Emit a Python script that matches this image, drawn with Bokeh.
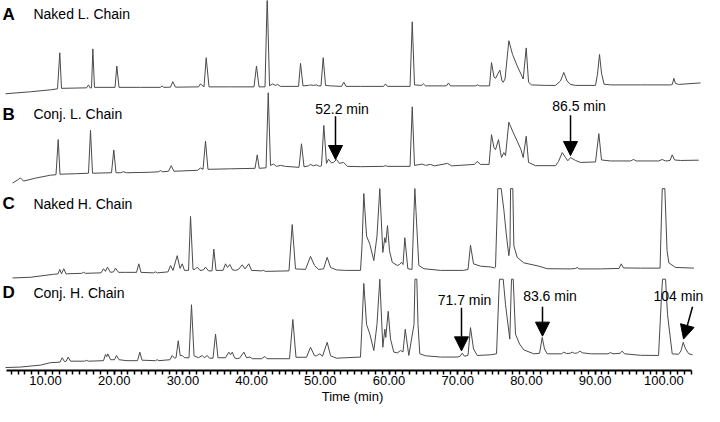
from bokeh.plotting import figure
from bokeh.models import Range1d, Label, Arrow, NormalHead, SingleIntervalTicker, NumeralTickFormatter
from bokeh.embed import file_html
from bokeh.resources import INLINE

# ---------------- data (time in min, detector response in arbitrary units) ----------------
a_time = [4.18, 7.82, 10.73, 11.75, 12.08, 12.33, 15.97, 16.26, 16.48, 16.70, 16.89, 17.13, 20.12, 20.38, 20.70,
          23.83, 26.74, 26.99, 27.18, 28.20, 28.53, 28.92, 32.27, 32.56, 33.07, 33.39, 33.80, 36.93, 40.35, 40.71,
          41.08, 41.95, 42.27, 42.61, 43.04, 43.48, 43.77, 44.21, 46.83, 47.12, 47.48, 48.28, 48.57, 49.01, 49.45,
          49.74, 50.10, 50.42, 50.76, 51.49, 53.09, 53.42, 53.74, 55.85, 59.20, 59.49, 59.78, 63.06, 63.38, 63.71,
          64.73, 65.02, 65.31, 68.37, 68.66, 68.95, 72.59, 72.88, 73.17, 74.63, 74.92, 75.28, 75.50, 76.13, 76.45,
          76.62, 76.89, 77.44, 77.98, 78.66, 79.21, 79.53, 79.97, 80.31, 80.74, 82.78, 84.24, 84.96, 85.44, 85.91,
          86.42, 87.15, 90.06, 90.35, 90.64, 90.93, 91.30, 92.24, 96.61, 100.98, 101.24, 101.46, 101.70, 102.14, 105.34]
a_signal = [1, 3, 5, 6, 42.7, 6.5, 7, 10, 7, 7, 46.7, 7.5, 7.5, 29.3, 7.5,
            7.5, 7.5, 9, 7.5, 7.7, 13.3, 7.7, 8, 11, 8, 37.7, 8, 8, 8, 29.3,
            8, 8, 100, 9, 11, 9.5, 10.5, 8.5, 8.5, 32, 9, 9.5, 10, 9.5, 10,
            9, 9, 37.7, 9.5, 9, 8.5, 12.7, 8.5, 8.5, 8.5, 11, 8.5, 8.5, 74.3, 10,
            9.5, 11, 9, 9, 12, 9, 9, 10, 9, 9, 32.7, 18, 16.7, 25, 14,
            12.7, 16, 55, 41, 29.3, 21, 16, 47.7, 12.7, 10, 9.5, 9.5, 14, 22.7, 14,
            10.5, 9.5, 9.5, 21, 41, 22, 10.7, 10, 10, 10, 10.5, 16.7, 11.5, 10.5, 12]

b_time = [5.20, 5.92, 6.36, 6.80, 8.54, 10.73, 11.53, 11.85, 12.11, 14.37, 16.26, 16.55, 16.84, 19.61, 19.94,
          20.26, 20.92, 21.35, 21.79, 25.28, 26.45, 26.74, 27.03, 27.90, 28.30, 28.70, 32.13, 32.56, 32.93, 33.29,
          33.65, 36.93, 40.50, 40.82, 41.11, 42.10, 42.42, 42.75, 43.19, 43.62, 44.21, 44.93, 46.90, 47.26, 47.63,
          48.28, 48.57, 49.01, 49.45, 49.88, 50.17, 50.51, 50.90, 51.19, 51.63, 51.92, 52.36, 52.79, 53.38, 53.96,
          55.85, 59.20, 59.49, 59.78, 63.06, 63.38, 63.71, 64.83, 65.31, 66.04, 66.62, 68.52, 69.10, 72.45, 72.84,
          73.32, 74.56, 74.92, 75.28, 75.50, 75.94, 76.23, 76.38, 76.71, 76.96, 77.44, 77.98, 78.66, 79.21, 79.53,
          79.97, 80.31, 81.32, 84.24, 84.67, 85.21, 85.69, 86.03, 86.42, 87.15, 87.87, 90.06, 90.54, 90.93, 92.24,
          95.15, 95.59, 96.03, 99.23, 99.77, 100.25, 100.90, 101.22, 101.56, 102.43, 105.09]
b_signal = [1, 4, 6.3, 3, 6, 9, 9.5, 45.3, 10, 10.5, 11, 54.7, 11, 11.5, 34.7,
            11.5, 11.5, 12.5, 11.5, 12, 12.5, 13.7, 12.5, 13, 18.7, 13, 14, 16.3, 15, 43.7,
            15, 15.5, 16, 29.7, 16, 16.5, 93, 19, 20.3, 18, 19, 18, 17, 41, 17.5,
            18.5, 20, 18.5, 19.5, 18, 18.5, 59.7, 21, 25.3, 21.5, 22, 25, 21, 22, 18,
            17.7, 18, 18.7, 18, 18, 78.7, 19, 20.3, 19, 20, 18.5, 21, 18.5, 20, 23,
            20, 20, 50.3, 37, 35, 45.3, 32, 27, 32, 29, 63, 54, 43.7, 35, 27,
            48.7, 22, 18.7, 18.7, 23, 32, 27, 23.7, 27, 24, 22, 22.5, 51.3, 24.5, 23.5,
            23.5, 25, 23.5, 23.5, 25, 23.5, 24, 29.7, 24.5, 24, 24.3]

c_time = [5.20, 7.82, 11.16, 11.82, 12.08, 12.33, 12.66, 12.98, 15.24, 15.53, 15.82, 18.08, 18.44, 18.73, 19.02,
          19.46, 19.90, 20.19, 20.63, 21.64, 23.25, 23.58, 23.90, 25.72, 26.01, 26.30, 27.83, 28.20, 28.56, 29.17,
          29.58, 29.90, 30.23, 30.82, 31.11, 31.47, 31.76, 32.08, 32.49, 33.00, 33.29, 33.73, 34.24, 34.50, 34.82,
          35.84, 36.20, 36.49, 36.83, 37.22, 37.66, 38.09, 38.63, 39.04, 39.59, 39.99, 41.44, 41.73, 42.02, 45.44,
          45.91, 46.39, 47.85, 48.57, 49.16, 49.74, 50.47, 51.00, 51.49, 52.36, 53.67, 55.85, 56.07, 56.33, 56.73,
          57.21, 57.79, 58.25, 58.66, 59.10, 59.39, 59.53, 59.78, 60.07, 60.47, 61.19, 61.53, 61.82, 62.04, 62.30,
          62.74, 63.35, 63.64, 63.76, 63.93, 64.34, 65.07, 67.50, 70.84, 71.50, 71.86, 72.30, 73.32, 74.77, 75.36,
          75.50, 75.84, 76.33, 76.71, 77.10, 77.44, 77.61, 77.69, 78.02, 78.17, 78.66, 79.62, 81.81, 83.03, 86.42,
          87.15, 87.39, 87.66, 90.79, 93.48, 93.80, 94.13, 96.61, 99.45, 99.77, 100.15, 100.47, 100.73, 101.70, 104.37]
c_signal = [1.3, 2, 5, 5.5, 10, 5.5, 10.7, 5.5, 6, 7, 6, 6.5, 10.7, 8, 12.3,
            7, 7.5, 11.3, 7, 7, 7, 15.7, 7, 6.5, 7.5, 6.5, 7.5, 14, 9, 24,
            11, 15.7, 9, 9, 64, 10, 10, 12.3, 9, 9.5, 12.3, 8.5, 8.5, 30.7, 9,
            9, 15.7, 12, 15, 9.5, 9, 10, 14.7, 10.5, 15.7, 9, 8.5, 9, 8, 8.5,
            55.7, 10.5, 10, 23.3, 14, 10, 10.5, 22.3, 12, 9.5, 9, 9, 34, 87.3, 44,
            35.7, 19, 44, 92.3, 27.3, 42.3, 37.3, 54.7, 29, 17.3, 14, 15, 17.3, 15, 42.3,
            10.7, 10, 69, 92.3, 69, 14, 10.7, 9, 9, 10, 34.7, 15.7, 13.3, 12.5, 11.5,
            12.3, 92.3, 92.3, 71, 44, 24, 34, 92.3, 92.3, 34, 22.3, 16.7, 13.3, 10.7, 10.5,
            11, 12, 10.5, 10.5, 11, 15.7, 11.5, 11.3, 11.3, 92.3, 92.3, 29, 16.7, 12, 11.3]

d_time = [4.18, 6.36, 9.27, 10.73, 12.11, 12.43, 12.77, 13.01, 13.30, 13.64, 15.68, 15.97, 16.26, 18.44, 18.73,
          18.91, 19.07, 19.46, 20.04, 20.33, 20.70, 21.86, 23.39, 23.73, 24.05, 26.01, 26.26, 26.52, 28.12, 28.44,
          28.78, 29.00, 29.32, 29.61, 29.90, 30.23, 30.89, 31.25, 31.62, 32.27, 32.81, 33.14, 33.54, 33.87, 34.38,
          34.75, 35.11, 36.20, 36.68, 36.93, 37.18, 37.51, 37.90, 38.24, 38.87, 39.26, 39.74, 40.13, 41.44, 41.92,
          42.24, 45.52, 46.00, 46.46, 47.99, 48.57, 49.16, 49.45, 49.93, 50.32, 51.00, 51.49, 52.36, 53.67, 55.85,
          56.07, 56.33, 56.73, 57.21, 57.79, 58.25, 58.66, 59.10, 59.39, 59.53, 59.88, 60.22, 60.70, 61.24, 61.67,
          62.04, 62.36, 62.88, 63.64, 63.78, 64.05, 64.22, 64.48, 65.31, 67.50, 69.93, 70.34, 70.66, 70.99, 71.50,
          71.86, 72.30, 72.84, 74.77, 75.65, 75.98, 76.08, 76.62, 76.96, 77.58, 77.76, 77.83, 78.08, 78.41, 79.00,
          79.62, 81.08, 81.91, 82.30, 82.63, 83.03, 85.11, 85.44, 85.84, 86.35, 86.67, 87.00, 87.44, 87.77, 88.17,
          89.33, 91.88, 92.24, 92.61, 93.62, 93.94, 94.28, 96.61, 99.23, 99.67, 99.81, 100.25, 100.54, 101.22, 102.14,
          102.50, 102.82, 103.16, 103.64, 104.18]
d_signal = [1, 1.5, 3.5, 6, 6.5, 11, 7, 7.5, 11.7, 7.5, 7.5, 8.3, 7.5, 8, 14.3,
            12, 15, 9, 9, 13.3, 9, 8, 8, 16.7, 8.5, 8, 9, 8, 9, 13.3,
            10.5, 11, 28.3, 13, 13.3, 11, 11, 65, 13, 11, 13.3, 11, 13.3, 10.5, 10.5,
            35, 11, 11, 16.7, 14, 16.7, 11, 10, 10.5, 16.7, 11, 11.7, 10, 10, 12.3,
            10, 10, 50, 11.5, 11.5, 21.7, 13, 13, 15, 12.5, 26.7, 13, 10.5, 11, 11.7,
            45, 86.7, 45, 35, 18.3, 45, 91, 21.7, 40, 31.7, 58.3, 30, 16.7, 16, 18.3,
            17, 40, 13.3, 45, 91, 91, 45, 15, 13, 11.7, 11.7, 12.5, 15.7, 12.5, 13.5,
            41.7, 20, 13.3, 14, 15, 75, 91, 91, 65, 30, 75, 91, 91, 35, 25,
            19, 15, 15.5, 31.7, 20, 15, 15, 16.7, 15.3, 15.5, 16.7, 15.5, 16, 17.7, 16,
            15, 15, 16.3, 15, 15.5, 17.7, 15, 13.5, 13.3, 75, 91, 91, 55, 15, 14.5,
            18, 26.7, 20, 15, 14]

panel_letters = ["A", "B", "C", "D"]
panel_names = ["Naked L. Chain", "Conj. L. Chain", "Naked H. Chain", "Conj. H. Chain"]

note_texts = ["52.2 min", "86.5 min", "71.7 min", "83.6 min", "104 min"]
note_tail_time = [52.21, 86.42, 70.55, 82.34, 104.18]
note_tip_time = [52.21, 86.42, 70.55, 82.34, 102.87]

# ---------------- layout / style ----------------
offsets = [281, 190, 93, 2]
note_tail_y = [259, 260, 64, 65, 65]
note_tip_y = [215, 219, 20, 35, 32]
note_label_x = [53.16, 87.66, 70.99, 83.43, 105.75]
note_label_y = [266, 269, 72, 76, 76]
note_align = ["center", "center", "center", "center", "right"]
panel_label_y = [363, 261, 170, 79]

FONT = "Liberation Sans"

p = figure(width=704, height=406, output_backend="svg", toolbar_location=None,
           x_range=Range1d(3.45, 105.92), y_range=Range1d(0, 377),
           y_axis_location=None, min_border_left=0, min_border_right=0,
           min_border_top=0, min_border_bottom=0)
p.outline_line_color = None
p.xgrid.visible = False
p.ygrid.visible = False
p.background_fill_color = "white"
p.border_fill_color = "white"

traces = [(a_time, a_signal), (b_time, b_signal), (c_time, c_signal), (d_time, d_signal)]
for (t, s), off in zip(traces, offsets):
    p.line(t, [v + off for v in s], line_color="#4a4a4a", line_width=1)

ax = p.xaxis[0]
ax.ticker = SingleIntervalTicker(interval=10, num_minor_ticks=10)
ax.formatter = NumeralTickFormatter(format="0.00")
ax.bounds = (4.3, 104)
ax.axis_line_width = 2
ax.axis_line_color = "black"
ax.major_tick_line_color = "black"
ax.major_tick_line_width = 1.5
ax.minor_tick_line_color = "black"
ax.minor_tick_line_width = 1.5
ax.major_tick_in = 0
ax.major_tick_out = 4
ax.minor_tick_in = 0
ax.minor_tick_out = 4
ax.major_label_standoff = 1
ax.major_label_text_font = FONT
ax.major_label_text_font_size = "13px"
ax.major_label_text_color = "black"
ax.axis_label = "Time (min)"
ax.axis_label_standoff = 1
ax.axis_label_text_font = FONT
ax.axis_label_text_font_size = "13px"
ax.axis_label_text_font_style = "normal"
ax.axis_label_text_color = "black"

for letter, name, y in zip(panel_letters, panel_names, panel_label_y):
    p.add_layout(Label(x=3.74, y=y, text=letter, text_font=FONT, text_font_size="17px",
                       text_font_style="bold", text_baseline="middle", text_color="black"))
    p.add_layout(Label(x=8.25, y=y, text=name, text_font=FONT, text_font_size="14px",
                       text_baseline="middle", text_color="black"))

for txt, xt, yt, xh, yh, lx, ly, al in zip(note_texts, note_tail_time, note_tail_y, note_tip_time, note_tip_y,
                                          note_label_x, note_label_y, note_align):
    p.add_layout(Arrow(end=NormalHead(size=14, fill_color="black", line_color="black"),
                       x_start=xt, y_start=yt, x_end=xh, y_end=yh, line_width=1.5, line_color="black"))
    p.add_layout(Label(x=lx, y=ly, text=txt, text_font=FONT, text_font_size="14px",
                       text_align=al, text_baseline="middle", text_color="black"))

open("out.html", "w").write(file_html(p, INLINE))
